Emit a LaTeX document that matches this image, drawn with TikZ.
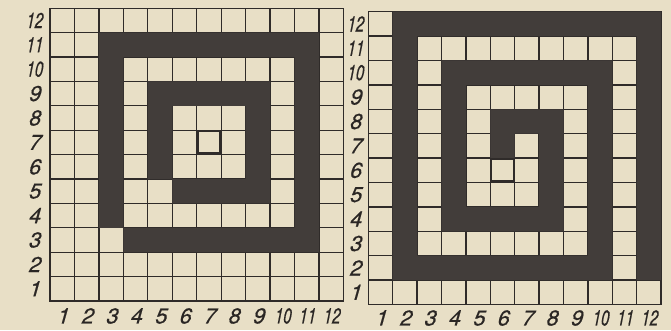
\documentclass[tikz,border=0pt]{standalone}
\usepackage{graphicx}
\usepackage{fontspec}
\newfontfamily\lblfont[FakeSlant=0.28,FakeBold=0.6]{TeX Gyre Heros}
\definecolor{paper}{HTML}{E8DFC6}
\definecolor{darkc}{HTML}{423D3A}
\definecolor{linec}{HTML}{2F2B29}
\definecolor{labelc}{HTML}{2A2624}
\newcommand{\twodig}[1]{\ifnum#1>9 \scalebox{0.7}[1]{#1}\else #1\fi}
\begin{document}
\begin{tikzpicture}[x=1pt,y=1pt,
  gridline/.style={draw=linec, line width=1.3pt, line cap=rect},
  darkfill/.style={fill=darkc},
  lbl/.style={font=\fontsize{21.5}{22}\selectfont\lblfont, text=labelc, inner sep=0pt},
  markbox/.style={draw=linec, line width=2.4pt}]
\useasboundingbox (0,0) rectangle (671,330);
\fill[paper] (0,0) rectangle (671,330);

% ---------- left grid ----------
\begin{scope}[shift={(50,29)}, x=24.45pt, y=24.4pt]
  \foreach \k in {0,...,12} {
    \draw[gridline] (\k,0) -- (\k,12);
    \draw[gridline] (0,\k) -- (12,\k);
  }
  % outer ring (cell 3,3 left open)
  \fill[darkfill] (2,10) rectangle (11,11)
                  (10,2) rectangle (11,11)
                  (3,2) rectangle (11,3)
                  (2,3) rectangle (3,11);
  % inner ring (cell 5,5 left open)
  \fill[darkfill] (4,8) rectangle (9,9)
                  (8,4) rectangle (9,9)
                  (5,4) rectangle (9,5)
                  (4,5) rectangle (5,9);
  \draw[markbox] (6.04,6.04) rectangle (6.96,6.96);
  \node[draw=none, inner sep=0pt, minimum size=0pt] (L-center) at (6.5,6.5) {};
  \foreach \i in {1,...,12} {
    \node[lbl, anchor=base] (L-c\i) at (\i-0.5,-0.92) {\twodig{\i}};
    \node[lbl] (L-r\i) at (-0.66,\i-0.5) {\twodig{\i}};
  }
\end{scope}

% ---------- right grid ----------
\begin{scope}[shift={(368.3,25.5)}, x=24.4pt, y=24.4pt]
  \foreach \k in {0,...,12} {
    \draw[gridline] (\k,0) -- (\k,12);
    \draw[gridline] (0,\k) -- (12,\k);
  }
  \fill[darkfill] (11,1) rectangle (12,12)
                  (1,11) rectangle (12,12)
                  (1,1) rectangle (2,12)
                  (1,1) rectangle (10,2)
                  (9,1) rectangle (10,10)
                  (3,9) rectangle (10,10)
                  (3,3) rectangle (4,10)
                  (3,3) rectangle (8,4)
                  (7,3) rectangle (8,8)
                  (5,7) rectangle (8,8)
                  (5,6) rectangle (6,8);
  \draw[markbox] (5.04,5.04) rectangle (5.96,5.96);
  \node[draw=none, inner sep=0pt, minimum size=0pt] (R-center) at (5.5,5.5) {};
  \foreach \i in {1,...,12} {
    \node[lbl, anchor=base] (R-c\i) at (\i-0.5,-0.86) {\twodig{\i}};
    \node[lbl] (R-r\i) at (-0.55,\i-0.5) {\twodig{\i}};
  }
\end{scope}
\end{tikzpicture}
\end{document}
